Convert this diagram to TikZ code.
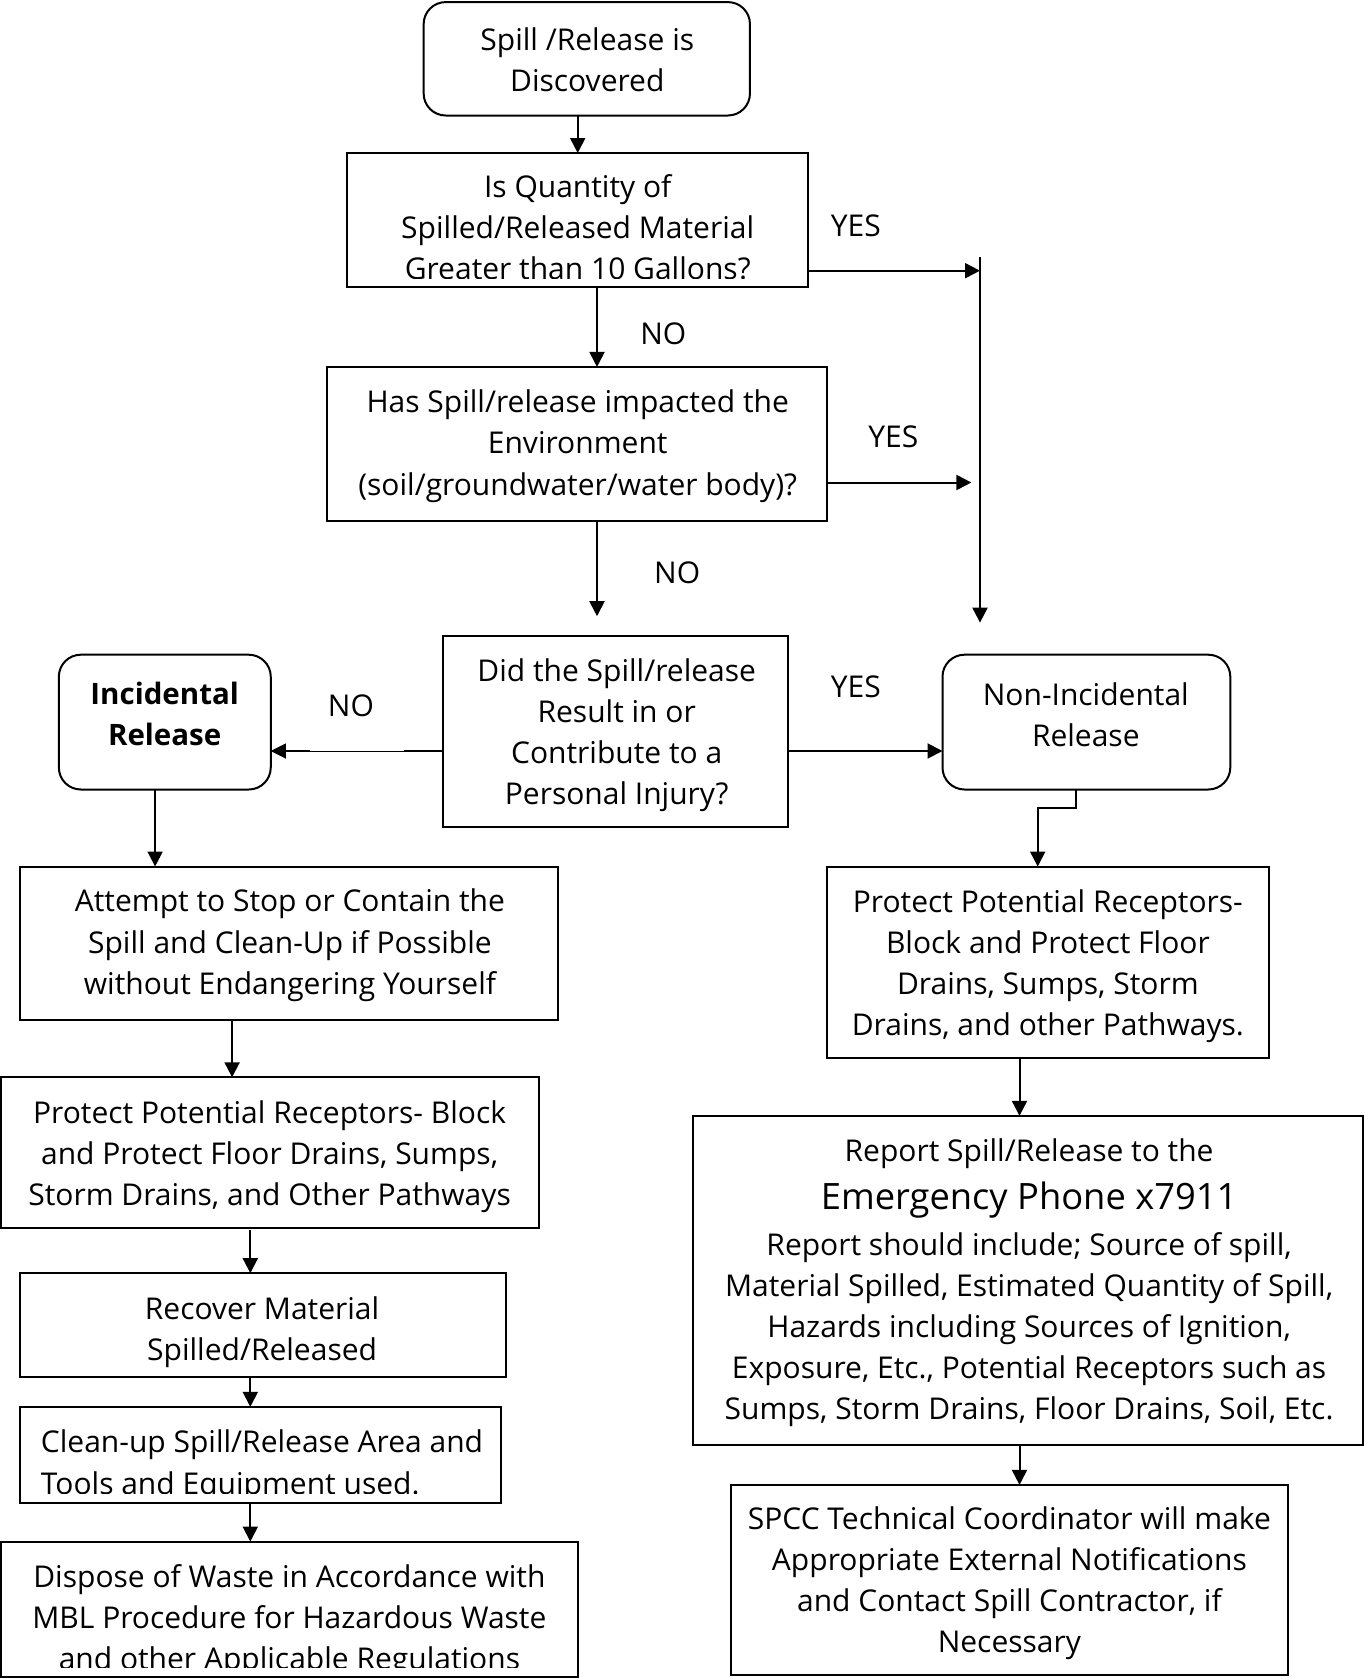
\documentclass[tikz,border=0pt]{standalone}
\usepackage{fontspec}
\setmainfont{Open Sans}
\usetikzlibrary{arrows.meta}
\begin{document}
\begin{tikzpicture}[x=1pt,y=-1pt,
  box/.style={draw, line width=2pt, rectangle, inner sep=0pt, outer sep=0pt},
  rbox/.style={box, rounded corners=22pt},
  txt/.style={align=center, inner sep=0pt, font=\fontsize{30}{41.2}\selectfont},
  bigtxt/.style={align=center, inner sep=0pt, font=\fontsize{36.3}{44}\selectfont},
  arr/.style={line width=2pt, -{Triangle[length=15pt,width=15pt]}},
  lin/.style={line width=2pt},
  lbl/.style={inner sep=0pt, font=\fontsize{30}{34}\selectfont}]
\useasboundingbox (0,0) rectangle (1364,1678);
\fill[white] (0,0) rectangle (1364,1678);

% boxes
\node[rbox, minimum width=326.3pt, minimum height=113.4pt] (start) at (586.8,58.8) {};
\node[box, minimum width=461.1pt, minimum height=133.7pt] (q1) at (577.2,219.9) {};
\node[box, minimum width=499.6pt, minimum height=154.1pt] (q2) at (577.2,444.0) {};
\node[box, minimum width=345.5pt, minimum height=190.5pt] (q3) at (615.7,731.7) {};
\node[rbox, minimum width=211.9pt, minimum height=134.8pt] (inc) at (164.8,722.1) {};
\node[rbox, minimum width=287.8pt, minimum height=134.8pt] (ninc) at (1086.4,722.1) {};
\node[box, minimum width=538.1pt, minimum height=153pt] (att) at (289.4,943.0) {};
\node[box, minimum width=441.8pt, minimum height=191.5pt] (pr) at (1047.9,962.3) {};
\node[box, minimum width=538.1pt, minimum height=150.8pt] (pl) at (270.2,1152.7) {};
\node[box, minimum width=485.7pt, minimum height=103.7pt] (rec) at (263.2,1325.0) {};
\node[box, minimum width=480.4pt, minimum height=96.3pt] (cln) at (260.5,1455.0) {};
\node[box, minimum width=576.6pt, minimum height=135.4pt] (dsp) at (289.4,1609.3) {};
\node[box, minimum width=669.8pt, minimum height=329.5pt] (rep) at (1028.1,1280.6) {};
\node[box, minimum width=557.3pt, minimum height=190.4pt] (spcc) at (1009.4,1580.1) {};

% texts
\node[txt] (tstart) at (587.3,59.4) {Spill /Release is\\Discovered};
\begin{scope}
\clip (350,156) rectangle (805,278);
\node[txt] (tq1) at (577.7,227.3) {Is Quantity of\\Spilled/Released Material\\Greater than 10 Gallons?};
\end{scope}
\node[txt] (tq2) at (577.7,446.1) {Has Spill/release impacted the\\Environment\\(soil/groundwater/water body)?};
\node[txt] (tq3) at (616.7,735.0) {Did the Spill/release\\Result in or\\Contribute to a\\Personal Injury?};
\node[txt, font=\fontsize{29.5}{41.2}\selectfont\bfseries] (tinc) at (164.7,713.6) {Incidental\\Release};
\node[txt] (tninc) at (1085.8,714.6) {Non-Incidental\\Release};
\node[txt] (tatt) at (289.9,945.2) {Attempt to Stop or Contain the\\Spill and Clean-Up if Possible\\without Endangering Yourself};
\node[txt] (tpr) at (1047.9,966.0) {Protect Potential Receptors-\\Block and Protect Floor\\Drains, Sumps, Storm\\Drains, and other Pathways.};
\node[txt] (tpl) at (269.6,1156.5) {Protect Potential Receptors- Block\\and Protect Floor Drains, Sumps,\\Storm Drains, and Other Pathways};
\node[txt] (trec) at (262.1,1331.9) {Recover Material\\Spilled/Released};
\begin{scope}
\clip (22,1409) rectangle (498,1493);
\node[txt, align=left, anchor=west] (tcln) at (40.7,1465.6) {Clean-up Spill/Release Area and\\Tools and Equipment used.};
\end{scope}
\begin{scope}
\clip (3,1544) rectangle (575,1667);
\node[txt] (tdsp) at (289.4,1620.8) {Dispose of Waste in Accordance with\\MBL Procedure for Hazardous Waste\\and other Applicable Regulations};
\end{scope}
\node[txt] (trep1) at (1029.1,1153.3) {Report Spill/Release to the};
\node[bigtxt] (trep2) at (1029.1,1200.3) {Emergency Phone x7911};
\node[txt] (trep3) at (1029.1,1329.7) {Report should include; Source of spill,\\Material Spilled, Estimated Quantity of Spill,\\Hazards including Sources of Ignition,\\Exposure, Etc., Potential Receptors such as\\Sumps, Storm Drains, Floor Drains, Soil, Etc.};
\node[txt] (tspcc) at (1009.4,1583.3) {SPCC Technical Coordinator will make\\Appropriate External Notifications\\and Contact Spill Contractor, if\\Necessary};

% labels
\node[lbl] (yes1) at (855.8,225.7) {YES};
\node[lbl] (no1) at (663.3,333.8) {NO};
\node[lbl] (yes2) at (893.3,436.5) {YES};
\node[lbl] (no2) at (677.2,572.3) {NO};
\node[lbl] (no3) at (350.9,706.1) {NO};
\node[lbl] (yes3) at (855.8,686.8) {YES};

% connector coordinates
\coordinate (c1) at (577.7,0);
\coordinate (c2) at (597.0,0);
\coordinate (vj) at (980,270.7);
\coordinate (vtop) at (980,256.8);
\coordinate (vbot) at (980,622.6);
\coordinate (q2e) at (971.4,482.5);
\coordinate (q2d) at (597.0,616.2);
\coordinate (yq3) at (0,751.0);
\coordinate (thinA) at (404,751.0);
\coordinate (thinB) at (310,751.0);
\coordinate (nx) at (1076.2,807.7);
\coordinate (nl) at (1037.7,807.7);
\coordinate (cinc) at (155.1,0);
\coordinate (catt) at (232.1,0);
\coordinate (cl) at (250.3,0);
\coordinate (plb) at (250.3,1230.3);
\coordinate (cr) at (1019.5,0);

% connectors
\draw[arr] (start.south -| c1) -- (q1.north -| c1);
\draw[arr] (q1.east |- vj) -- (vj);
\draw[arr] (vtop) -- (vbot);
\draw[arr] (q1.south -| c2) -- (q2.north -| c2);
\draw[arr] (q2.east |- q2e) -- (q2e);
\draw[arr] (q2.south -| q2d) -- (q2d);
\draw[arr, line width=1pt] (q3.west |- yq3) -- (inc.east |- yq3);
\draw[lin] (q3.west |- yq3) -- (thinA);
\draw[lin] (thinB) -- ([xshift=8pt]inc.east |- yq3);
\draw[arr] (q3.east |- yq3) -- (ninc.west |- yq3);
\draw[arr] (ninc.south -| nx) -- (nx) -- (nl) -- (pr.north -| nl);
\draw[arr] (inc.south -| cinc) -- (att.north -| cinc);
\draw[arr] (att.south -| catt) -- (pl.north -| catt);
\draw[arr] (plb) -- (rec.north -| cl);
\draw[arr] (rec.south -| cl) -- (cln.north -| cl);
\draw[arr] (cln.south -| cl) -- (dsp.north -| cl);
\draw[arr] (pr.south -| cr) -- (rep.north -| cr);
\draw[arr] (rep.south -| cr) -- (spcc.north -| cr);
\end{tikzpicture}
\end{document}
